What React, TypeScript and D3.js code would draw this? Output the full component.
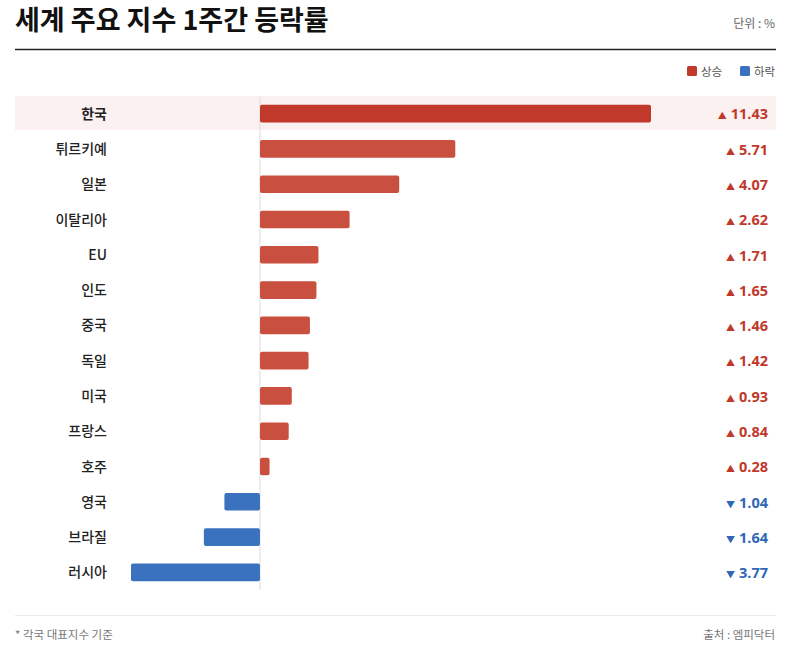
import React, { useRef, useEffect } from "react";
import * as d3 from "d3";

const countries = ["한국", "튀르키예", "일본", "이탈리아", "EU", "인도", "중국", "독일", "미국", "프랑스", "호주", "영국", "브라질", "러시아"];
const changes = [11.43, 5.71, 4.07, 2.62, 1.71, 1.65, 1.46, 1.42, 0.93, 0.84, 0.28, -1.04, -1.64, -3.77];
const highlight = "한국";

const FONT = "'Noto Sans CJK KR', 'Noto Sans', sans-serif";
const NUM_FONT = "'Open Sans', 'Noto Sans', sans-serif";
const UP = "#c9503f";
const UP_HL = "#c0392b";
const DOWN = "#3a72c0";

const App = () => {
  const svgRef = useRef<SVGSVGElement>(null);

  useEffect(() => {
    if (!svgRef.current) return;
    const svg = d3.select(svgRef.current);
    svg.selectAll("*").remove();

    const left = 15, right = 776;

    // header
    svg.append("text")
      .attr("x", left).attr("y", 30)
      .attr("font-family", FONT).attr("font-size", 27).attr("font-weight", 700)
      .attr("fill", "#111")
      .text("세계 주요 지수 1주간 등락률");
    svg.append("text")
      .attr("x", 775).attr("y", 28).attr("text-anchor", "end")
      .attr("font-family", FONT).attr("font-size", 12).attr("fill", "#666")
      .text("단위 : %");
    svg.append("line")
      .attr("x1", left).attr("x2", right).attr("y1", 49.5).attr("y2", 49.5)
      .attr("stroke", "#222").attr("stroke-width", 1.5);

    // legend
    const legend = [
      { label: "상승", color: UP_HL, x: 687 },
      { label: "하락", color: DOWN, x: 740 },
    ];
    legend.forEach(l => {
      svg.append("rect").attr("x", l.x).attr("y", 66).attr("width", 10).attr("height", 10)
        .attr("rx", 1.5).attr("fill", l.color);
      svg.append("text").attr("x", l.x + 14).attr("y", 75.5)
        .attr("font-family", FONT).attr("font-size", 11.5).attr("fill", "#555")
        .text(l.label);
    });

    // scales
    const y = d3.scaleBand().domain(countries).range([96, 590]).paddingInner(0.5).paddingOuter(0.25);
    const step = y.step();
    const x = d3.scaleLinear()
      .domain([d3.min(changes)!, d3.max(changes)!])
      .range([131, 651]);

    const g = svg.append("g");

    // highlighted row background
    countries.forEach(c => {
      if (c !== highlight) return;
      g.append("rect")
        .attr("x", left).attr("width", right - left)
        .attr("y", y(c)! + y.bandwidth() / 2 - step / 2)
        .attr("height", step - 1)
        .attr("fill", "#fcf1f1");
    });

    // zero line
    g.append("line")
      .attr("x1", x(0)).attr("x2", x(0))
      .attr("y1", 97).attr("y2", 590)
      .attr("stroke", "#dcdcdc").attr("stroke-width", 1);

    countries.forEach((c, i) => {
      const v = changes[i];
      const cy = y(c)! + y.bandwidth() / 2;
      const isHl = c === highlight;
      const color = v >= 0 ? (isHl ? UP_HL : UP) : DOWN;
      const textColor = v >= 0 ? "#c0392b" : "#2f66b8";

      g.append("rect")
        .attr("x", Math.min(x(0), x(v)))
        .attr("width", Math.abs(x(v) - x(0)))
        .attr("y", y(c)!)
        .attr("height", y.bandwidth())
        .attr("rx", 2)
        .attr("fill", color);

      g.append("text")
        .attr("x", 107).attr("y", cy).attr("dy", "0.36em")
        .attr("text-anchor", "end")
        .attr("font-family", FONT).attr("font-size", 14)
        .attr("font-weight", isHl ? 700 : 500)
        .attr("fill", "#222")
        .text(c);

      const t = g.append("text")
        .attr("x", 768).attr("y", cy).attr("dy", "0.36em")
        .attr("text-anchor", "end")
        .attr("font-family", NUM_FONT).attr("font-weight", 700)
        .attr("fill", textColor);
      t.append("tspan").attr("font-size", 9).attr("font-family", FONT).text(v >= 0 ? "▲" : "▼");
      t.append("tspan").attr("font-size", 14.5).attr("dx", 4).text(Math.abs(v).toFixed(2));
    });

    // footer
    svg.append("line")
      .attr("x1", left).attr("x2", right).attr("y1", 615.5).attr("y2", 615.5)
      .attr("stroke", "#ebebeb").attr("stroke-width", 1);
    svg.append("text")
      .attr("x", left).attr("y", 639)
      .attr("font-family", FONT).attr("font-size", 11.5).attr("fill", "#777")
      .text("* 각국 대표지수 기준");
    svg.append("text")
      .attr("x", 775).attr("y", 639).attr("text-anchor", "end")
      .attr("font-family", FONT).attr("font-size", 11.5).attr("fill", "#777")
      .text("출처 : 엠피닥터");
  }, []);

  return (
    <svg ref={svgRef} width={800} height={650}
      style={{ position: "absolute", left: 0, top: 0, background: "#fff" }} />
  );
};

export default App;
